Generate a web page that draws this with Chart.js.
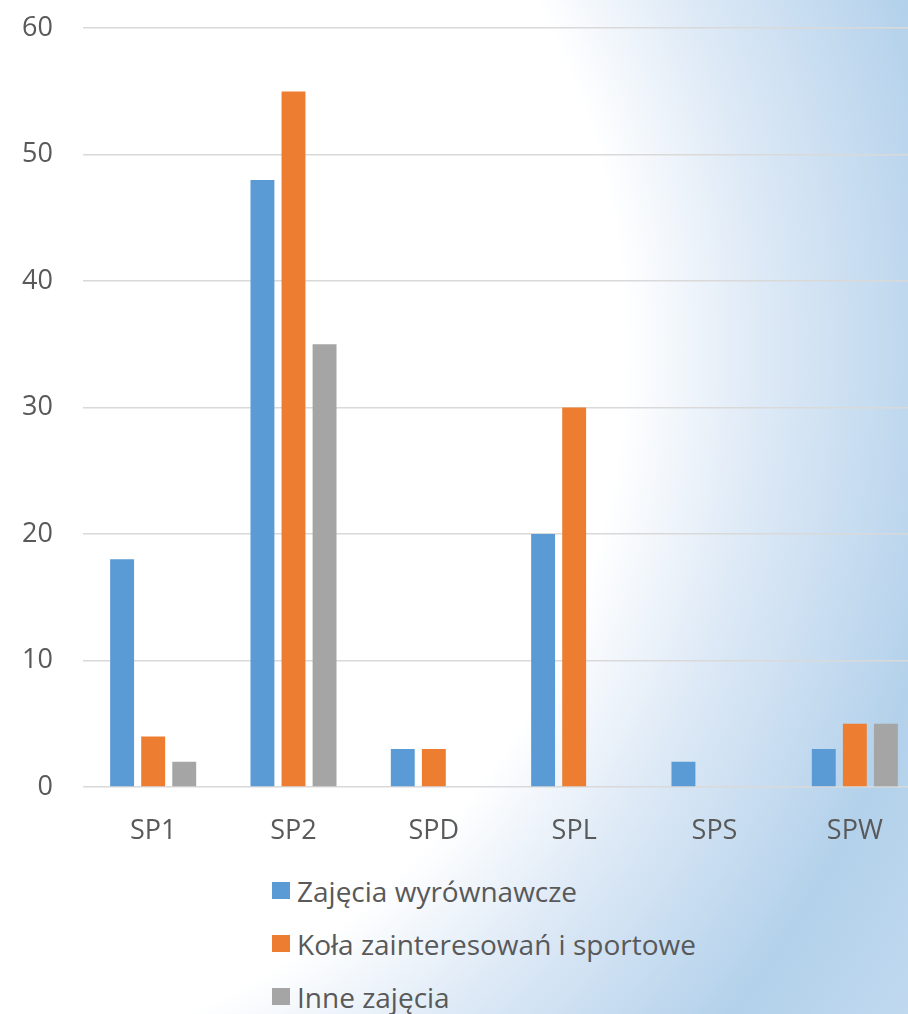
<!DOCTYPE html>
<html>
<head>
<meta charset="utf-8">
<script src="https://cdn.jsdelivr.net/npm/chart.js@4/dist/chart.umd.min.js"></script>
<style>
  html, body { margin: 0; padding: 0; }
  body {
    width: 908px; height: 1014px; overflow: hidden;
    background: radial-gradient(circle at -96px 350px, #ffffff 0px, #ffffff 720px, #dde9f6 860px, #b3d1eb 1060px, #c0d9ef 1210px);
    font-family: "Open Sans", sans-serif;
  }
  #wrap { position: relative; width: 908px; height: 1014px; overflow: hidden; }
  #chartBars { position: absolute; left: 0; top: -18px; }
  #legend { position: absolute; left: 272px; top: 864px; }
  .item { display: flex; align-items: center; height: 53px; color: #595959; font-size: 28px; white-space: nowrap; }
  .box { width: 18px; height: 17px; margin-right: 7px; flex: none; }
</style>
</head>
<body>
<div id="wrap">
  <canvas id="chartBars" width="925" height="878"></canvas>
  <div id="legend"></div>
</div>
<script>
// dane z wykresu
const categories = ["SP1", "SP2", "SPD", "SPL", "SPS", "SPW"];
const seriesNames = ["Zajęcia wyrównawcze", "Koła zainteresowań i sportowe", "Inne zajęcia"];
const wyrownawcze = [18, 48, 3, 20, 2, 3];
const kola = [4, 55, 3, 30, 0, 5];
const inne = [2, 35, 0, 0, 0, 5];
const yTicks = [0, 10, 20, 30, 40, 50, 60];

const colors = ["#5B9BD5", "#ED7D31", "#A5A5A5"];
const textColor = "#595959";
const fontSpec = { family: "'Open Sans', sans-serif", size: 27 };

const ctx = document.getElementById('chartBars');
const barChart = new Chart(ctx, {
    type: 'bar',
    data: {
        labels: categories,
        datasets: [
            { label: seriesNames[0], data: wyrownawcze, backgroundColor: colors[0] },
            { label: seriesNames[1], data: kola, backgroundColor: colors[1] },
            { label: seriesNames[2], data: inne, backgroundColor: colors[2] }
        ]
    },
    options: {
        responsive: false,
        animation: false,
        layout: { padding: { top: 26, left: 0, right: 0, bottom: 0 } },
        datasets: {
            bar: { categoryPercentage: 0.664, barPercentage: 0.77, borderWidth: 0 }
        },
        scales: {
            x: {
                grid: { display: false },
                border: { display: false },
                ticks: { color: textColor, font: fontSpec, padding: 20 },
                afterFit: (scale) => { scale.height = 73; }
            },
            y: {
                min: 0,
                max: 60,
                afterBuildTicks: (scale) => { scale.ticks = yTicks.map(v => ({ value: v })); },
                grid: { color: '#D9D9D9', lineWidth: 1.5, drawTicks: false },
                border: { display: false },
                ticks: { color: textColor, font: fontSpec, padding: 30 },
                afterFit: (scale) => { scale.width = 83; }
            }
        },
        plugins: {
            legend: { display: false },
            tooltip: { enabled: false }
        }
    }
});

// legenda pionowa pod wykresem
const legendBox = document.getElementById('legend');
barChart.data.datasets.forEach(ds => {
    const row = document.createElement('div');
    row.className = 'item';
    const sq = document.createElement('span');
    sq.className = 'box';
    sq.style.background = ds.backgroundColor;
    const txt = document.createElement('span');
    txt.textContent = ds.label;
    row.appendChild(sq);
    row.appendChild(txt);
    legendBox.appendChild(row);
});
</script>
</body>
</html>
